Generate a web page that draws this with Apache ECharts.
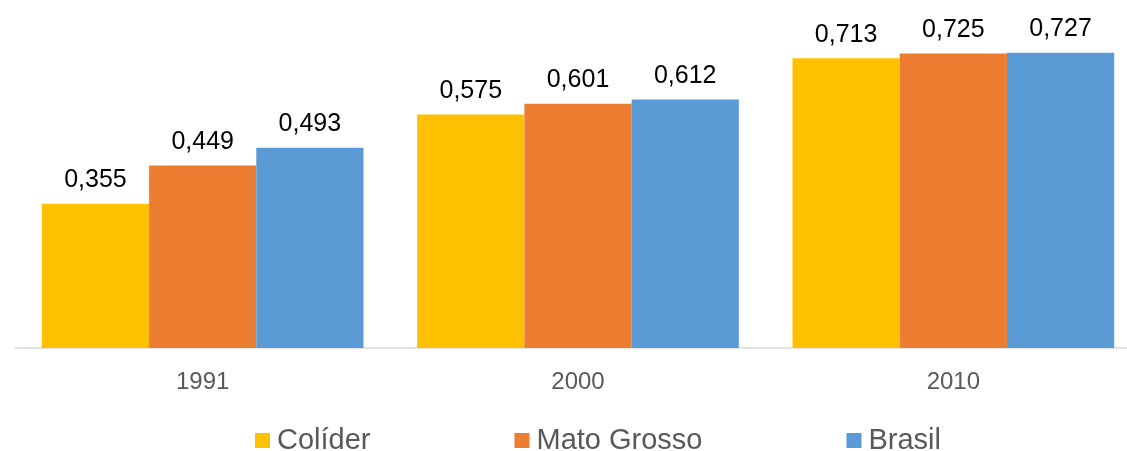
<!DOCTYPE html>
<html>
<head>
<meta charset="utf-8">
<script src="https://cdn.jsdelivr.net/npm/echarts@6/dist/echarts.min.js"></script>
<style>
  html, body { margin: 0; padding: 0; background: #fff; overflow: hidden; }
  /* the original picture cuts the plot off on the right, so draw wider */
  #chart { width: 1141px; height: 451px; }
</style>
</head>
<body>
<div id="chart"></div>
<script>
const years = ['1991', '2000', '2010']
const colider = [0.355, 0.575, 0.713]
const matoGrosso = [0.449, 0.601, 0.725]
const brasil = [0.493, 0.612, 0.727]

const chart = echarts.init(document.getElementById('chart'))

const labelStyle = {
  show: true,
  position: 'top',
  distance: 11,
  color: '#000',
  fontFamily: 'Liberation Sans, Arial, sans-serif',
  fontSize: 25,
  formatter: p => p.value.toFixed(3).replace('.', ',')
}

function bar (name, data, color) {
  return {
    name: name,
    type: 'bar',
    data: data,
    barGap: '0%',
    barCategoryGap: '14.3%',
    itemStyle: { color: color },
    label: labelStyle
  }
}

chart.setOption({
  animation: false,
  grid: { left: 15, right: 0, top: 23, bottom: 103 },
  xAxis: {
    type: 'category',
    data: years,
    axisLine: { lineStyle: { color: '#d9d9d9', width: 1.5 } },
    axisTick: { show: false },
    axisLabel: {
      color: '#595959',
      fontFamily: 'Liberation Sans, Arial, sans-serif',
      fontSize: 24,
      margin: 22
    }
  },
  yAxis: {
    type: 'value',
    min: 0,
    max: 0.8,
    show: false,
    splitLine: { show: false }
  },
  legend: {
    left: 250,
    top: 421,
    icon: 'rect',
    itemWidth: 15,
    itemHeight: 15,
    itemGap: 144,
    textStyle: {
      color: '#595959',
      fontFamily: 'Liberation Sans, Arial, sans-serif',
      fontSize: 29,
      padding: [0, 0, 0, 2]
    },
    data: ['Colíder', 'Mato Grosso', 'Brasil']
  },
  series: [
    bar('Colíder', colider, '#ffc000'),
    bar('Mato Grosso', matoGrosso, '#ed7d31'),
    bar('Brasil', brasil, '#5b9bd5')
  ]
})
</script>
</body>
</html>
